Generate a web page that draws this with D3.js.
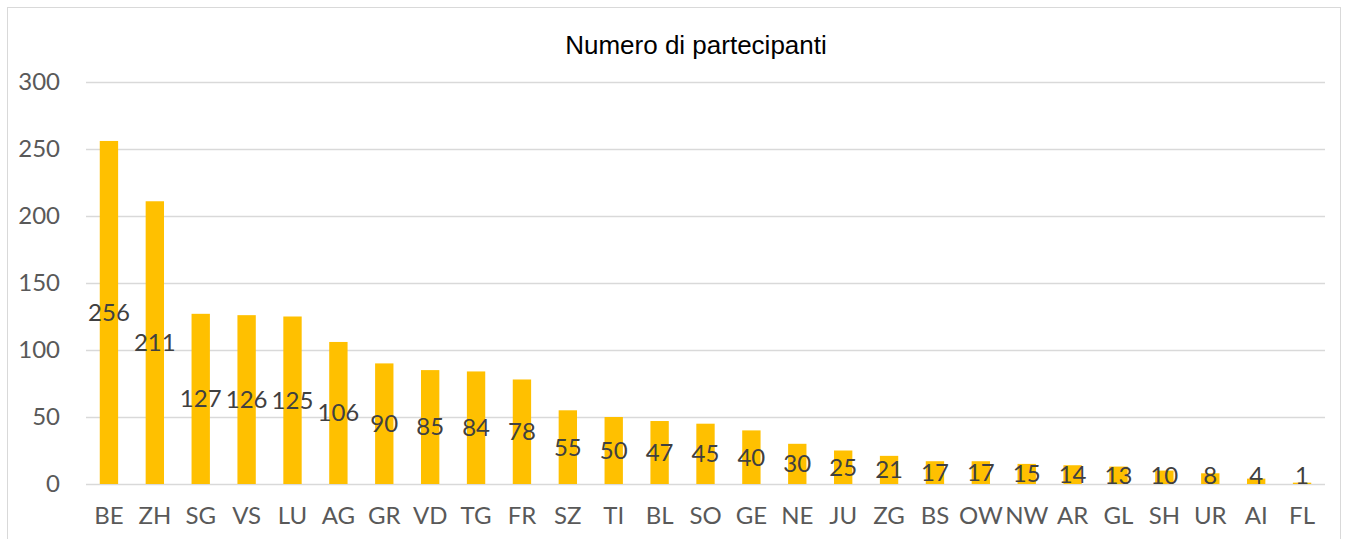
<!DOCTYPE html>
<html>
<head>
<meta charset="utf-8">
<script src="https://cdn.jsdelivr.net/npm/d3@7"></script>
<style>
  body { margin: 0; background: #fff; }
</style>
</head>
<body>
<div id="chart"></div>
<script>
var cantons = ["BE","ZH","SG","VS","LU","AG","GR","VD","TG","FR","SZ","TI","BL","SO","GE","NE","JU","ZG","BS","OW","NW","AR","GL","SH","UR","AI","FL"];
var participants = [256,211,127,126,125,106,90,85,84,78,55,50,47,45,40,30,25,21,17,17,15,14,13,10,8,4,1];
var yTicks = [0,50,100,150,200,250,300];
var title = "Numero di partecipanti";

var W = 1347, H = 539;
var margin = {top: 82, right: 22, bottom: 55, left: 86};
var width = W - margin.left - margin.right,
    height = H - margin.top - margin.bottom;

var data = cantons.map((c, i) => ({x: c, value: participants[i]}));

var svg = d3.select("#chart").append("svg")
    .attr("width", W)
    .attr("height", H);

// outer frame
svg.append("rect")
  .attr("x", 7.5).attr("y", 7.5)
  .attr("width", 1333).attr("height", 560)
  .attr("fill", "none")
  .attr("stroke", "#d9d9d9")
  .attr("stroke-width", 1);

svg.append("text")
  .attr("x", 696)
  .attr("y", 54)
  .attr("text-anchor", "middle")
  .attr("font-family", "Liberation Sans, Arial, sans-serif")
  .attr("font-size", 26)
  .attr("fill", "#000")
  .text(title);

var g = svg.append("g")
  .attr("transform", `translate(${margin.left},${margin.top})`);

var x = d3.scaleBand()
  .domain(cantons)
  .range([0, width])
  .paddingInner(0.6)
  .paddingOuter(0.3);

var y = d3.scaleLinear()
  .domain([0, 300])
  .range([height, 0]);

// gridlines
g.append("g")
  .selectAll("line")
  .data(yTicks)
  .enter().append("line")
    .attr("x1", 0)
    .attr("x2", width)
    .attr("y1", d => y(d) + 0.5)
    .attr("y2", d => y(d) + 0.5)
    .attr("stroke", "#d9d9d9")
    .attr("stroke-width", 1.5);

var yAxis = d3.axisLeft(y).tickValues(yTicks).tickSize(0).tickPadding(26);
var yg = g.append("g").call(yAxis);
yg.select(".domain").remove();
yg.selectAll("text")
  .attr("font-family", "Lato, Open Sans, sans-serif")
  .attr("font-size", 24)
  .attr("fill", "#595959");

var xAxis = d3.axisBottom(x).tickSize(0).tickPadding(23);
var xg = g.append("g")
  .attr("transform", `translate(0,${height})`)
  .call(xAxis);
xg.select(".domain").remove();
xg.selectAll("text")
  .attr("font-family", "Lato, Open Sans, sans-serif")
  .attr("font-size", 24)
  .attr("fill", "#595959");

g.selectAll(".bar")
  .data(data)
  .enter().append("rect")
    .attr("class", "bar")
    .attr("x", d => x(d.x))
    .attr("y", d => y(d.value))
    .attr("width", x.bandwidth())
    .attr("height", d => height - y(d.value))
    .attr("fill", "#FFC000");

g.selectAll(".label")
  .data(data)
  .enter().append("text")
    .attr("class", "label")
    .attr("x", d => x(d.x) + x.bandwidth() / 2)
    .attr("y", d => Math.min(y(d.value / 2), height - 8))
    .attr("dy", "0.35em")
    .attr("text-anchor", "middle")
    .attr("font-family", "Lato, Open Sans, sans-serif")
    .attr("font-size", 24)
    .attr("fill", "#404040")
    .text(d => d.value);
</script>
</body>
</html>
